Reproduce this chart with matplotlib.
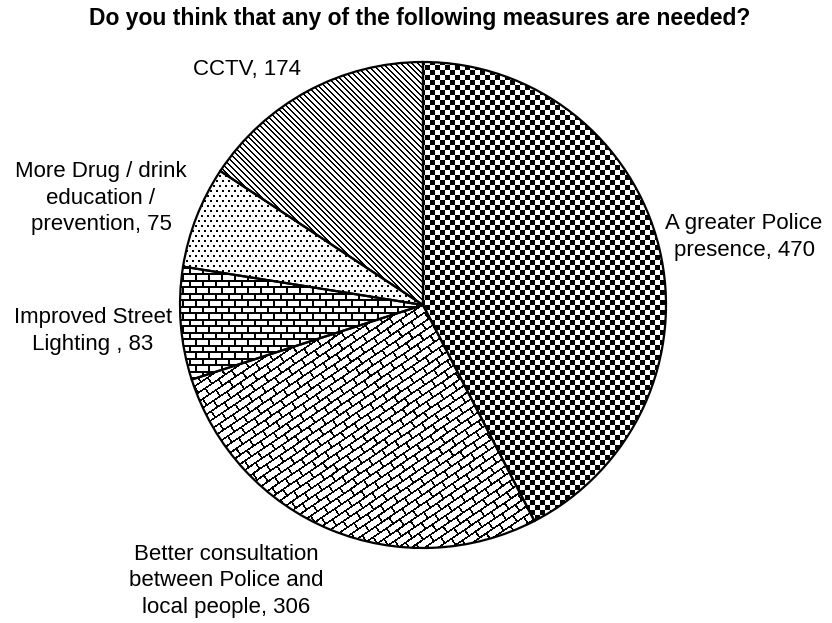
import numpy as np
import matplotlib
matplotlib.use("Agg")
import matplotlib.pyplot as plt

plt.rcParams['font.family'] = ['Liberation Sans', 'DejaVu Sans']

title = "Do you think that any of the following measures are needed?"
categories = ["A greater Police\npresence",
              "Better consultation\nbetween Police and\nlocal people",
              "Improved Street\nLighting ",
              "More Drug / drink\neducation /\nprevention",
              "CCTV"]
values = [470, 306, 83, 75, 174]

W, H = 832, 623
fig = plt.figure(figsize=(W / 100, H / 100), dpi=100)
ax = fig.add_axes([0, 0, 1, 1])

cx, cy, R = 423, H - 305, 243
wedges, _ = ax.pie(values, startangle=90, counterclock=False, center=(cx, cy), radius=R,
                   wedgeprops=dict(facecolor='none', edgecolor='black', linewidth=1.6))
for w in wedges:
    w.set_zorder(3)
ax.set_xlim(0, W)
ax.set_ylim(0, H)
ax.set_aspect('equal')
ax.axis('off')

yy, xx = np.mgrid[0:H, 0:W].astype(float)

def checker():
    c = 5.0
    return ((np.floor(xx / c) + np.floor(yy / c)) % 2) == 0

def diag_lines():
    return ((xx - yy) % 5.8) < 2.0

def dots():
    row = np.floor(yy / 5.0)
    return (((xx + (row % 2) * 3.0) % 6.0) < 1.5) & ((yy % 5.0) < 1.5)

def hbricks():
    rh, bl = 6.5, 13.0
    row = np.floor(yy / rh)
    mort = (yy % rh) < 1.6
    joint = ((xx + (row % 2) * bl / 2) % bl) < 1.6
    return mort | joint

def dbricks():
    t = np.deg2rad(34)
    u = xx * np.cos(t) - yy * np.sin(t)
    v = xx * np.sin(t) + yy * np.cos(t)
    rh, bl = 7.5, 16.0
    row = np.floor(v / rh)
    mort = (v % rh) < 1.7
    joint = ((u + (row % 2) * bl / 2) % bl) < 1.7
    return mort | joint

textures = [checker, dbricks, hbricks, dots, diag_lines]
for w, tex in zip(wedges, textures):
    m = tex()
    img = np.where(m, 0.0, 1.0)
    im = ax.imshow(img, cmap='gray', vmin=0, vmax=1, extent=(0, W, 0, H), origin='upper',
                   interpolation='nearest', zorder=1)
    im.set_clip_path(w)

ax.set_xlim(0, W)
ax.set_ylim(0, H)

fs = 16
label_pos = [(744, 237), (226, 581), (93, 331), (101, 198), (247, 69)]
for cat, val, (lx, ly) in zip(categories, values, label_pos):
    ax.text(lx, H - ly, f"{cat}, {val}", ha='center', va='center', fontsize=fs,
            linespacing=1.33, zorder=5)

ax.text(420, H - 19, title, ha='center', va='center', fontsize=16.5, fontweight='bold', zorder=5)

fig.savefig("out.png", dpi=100)
